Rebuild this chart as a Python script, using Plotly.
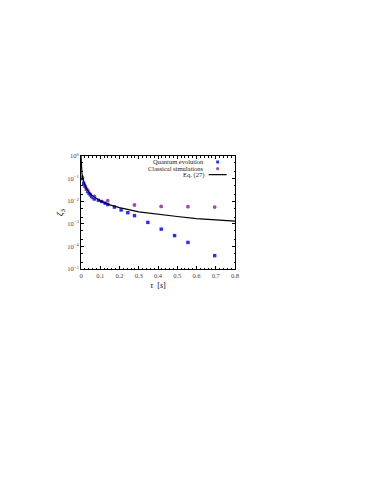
import plotly.graph_objects as go

# quantum evolution points
tau_q = [0.0069, 0.0139, 0.0208, 0.0278, 0.0347, 0.0417, 0.0486, 0.0556, 0.0625, 0.0694,
         0.0903, 0.1069, 0.1250, 0.1389, 0.1736, 0.2083, 0.2431, 0.2778, 0.3472, 0.4167,
         0.4861, 0.5556, 0.6944]
zeta_q = [0.100, 0.062, 0.045, 0.034, 0.027, 0.022, 0.019, 0.016, 0.0145, 0.0125,
          0.011, 0.0097, 0.0082, 0.0071, 0.0055, 0.0041, 0.0031, 0.0023, 0.00115, 0.00058,
          0.00030, 0.00015, 0.000039]

# classical simulation points
tau_c = [0.0069, 0.0347, 0.0694, 0.1389, 0.2778, 0.4167, 0.5556, 0.6944]
zeta_c = [0.115, 0.031, 0.0165, 0.0105, 0.0068, 0.0059, 0.0057, 0.0055]

# Eq. (27) curve
tau_eq = [0.0, 0.001, 0.002, 0.005, 0.01, 0.02, 0.03, 0.05, 0.075, 0.1, 0.15, 0.2,
          0.3, 0.4, 0.5, 0.6, 0.7, 0.8]
zeta_eq = [1.0, 0.51, 0.34, 0.17, 0.094, 0.050, 0.034, 0.020, 0.0137, 0.0103, 0.0069,
           0.0052, 0.0034, 0.0026, 0.0021, 0.0017, 0.0015, 0.0013]

x_ticks = [0, 0.1, 0.2, 0.3, 0.4, 0.5, 0.6, 0.7, 0.8]
x_labels = ["0", "0.1", "0.2", "0.3", "0.4", "0.5", "0.6", "0.7", "0.8"]
y_ticks = [1, 1e-1, 1e-2, 1e-3, 1e-4, 1e-5]
y_labels = ["10<sup>0</sup>", "10<sup>−1</sup>", "10<sup>−2</sup>", "10<sup>−3</sup>",
            "10<sup>−4</sup>", "10<sup>−5</sup>"]
legend_names = ["Quantum evolution", "Classical simulations", "Eq. (27)"]

FONT = "Liberation Serif"
BLUE = "#2a2aff"
PURPLE = "#9a4ea6"

fig = go.Figure()
fig.add_trace(go.Scatter(x=tau_q, y=zeta_q, mode="markers",
                         marker=dict(symbol="square", size=3.4, color=BLUE)))
fig.add_trace(go.Scatter(x=tau_c, y=zeta_c, mode="markers",
                         marker=dict(symbol="circle", size=3.8, color=PURPLE)))
fig.add_trace(go.Scatter(x=tau_eq, y=zeta_eq, mode="lines",
                         line=dict(color="black", width=1.2)))

# gnuplot-style key: text right-aligned, sample to its right
key_y = [0.947, 0.888, 0.835]
for i, name in enumerate(legend_names):
    fig.add_annotation(text=name, xref="paper", yref="paper", x=0.812, y=key_y[i],
                       xanchor="right", yanchor="middle", showarrow=False,
                       font=dict(family=FONT, size=6.5, color="#222"))
fig.add_shape(type="rect", xref="paper", yref="paper", x0=0.878, x1=0.896,
              y0=key_y[0] - 0.013, y1=key_y[0] + 0.013, fillcolor=BLUE, line_width=0)
fig.add_shape(type="circle", xref="paper", yref="paper", x0=0.877, x1=0.897,
              y0=key_y[1] - 0.015, y1=key_y[1] + 0.015, fillcolor=PURPLE, line_width=0)
fig.add_shape(type="line", xref="paper", yref="paper", x0=0.829, x1=0.946,
              y0=key_y[2], y1=key_y[2], line=dict(color="black", width=1.2))

axis_common = dict(showline=True, linecolor="black", linewidth=1, mirror="allticks",
                   ticks="inside", ticklen=3, tickcolor="black", tickwidth=0.6,
                   showgrid=False, zeroline=False,
                   tickfont=dict(family=FONT, size=6.5, color="#444"))

fig.update_xaxes(range=[0, 0.8], tickvals=x_ticks, ticktext=x_labels,
                 minor=dict(ticks="inside", ticklen=1.5, dtick=0.02, tickcolor="black"),
                 title=dict(text="<i>τ</i>  [<i>s</i>]", font=dict(family=FONT, size=8),
                            standoff=4),
                 **axis_common)
fig.update_yaxes(type="log", range=[-5, 0], tickvals=y_ticks, ticktext=y_labels,
                 minor=dict(ticks="inside", ticklen=1.5, tickcolor="black", showgrid=False),
                 title=dict(text="<i>ζ</i><sub>3</sub>", font=dict(family=FONT, size=9),
                            standoff=2),
                 **axis_common)

# the page body adds an 8px offset, so margins are shifted to compensate
fig.update_layout(
    width=374, height=484,
    margin=dict(l=73, r=147, t=148, b=223),
    plot_bgcolor="white", paper_bgcolor="white",
    font=dict(family=FONT, size=7, color="black"),
    showlegend=False,
)

fig.write_html("out.html")
